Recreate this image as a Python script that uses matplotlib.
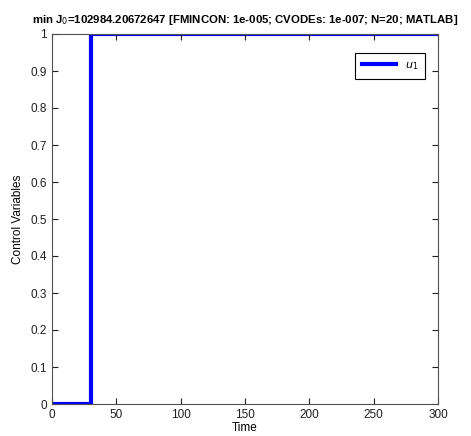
import matplotlib
matplotlib.use("Agg")
import matplotlib.pyplot as plt
import numpy as np

# Piecewise-constant control on N=20 equal intervals over [0, 300]
t_edges = np.linspace(0, 300, 21)
u1 = [0, 0, 1, 1, 1, 1, 1, 1, 1, 1, 1, 1, 1, 1, 1, 1, 1, 1, 1, 1]

x_ticks = [0, 50, 100, 150, 200, 250, 300]
y_ticks = [0, 0.1, 0.2, 0.3, 0.4, 0.5, 0.6, 0.7, 0.8, 0.9, 1]
y_ticklabels = ["0", "0.1", "0.2", "0.3", "0.4", "0.5", "0.6", "0.7", "0.8", "0.9", "1"]

plt.rcParams["font.family"] = ["Liberation Sans", "DejaVu Sans"]

fig = plt.figure(figsize=(4.71, 4.36), dpi=100)
ax = fig.add_axes([52 / 471, 1 - 404 / 436, (438 - 52) / 471, (404 - 34) / 436])

ax.stairs(u1, t_edges, color="#0000ff", linewidth=3, baseline=None, label="$u_1$")

ax.set_xlim(0, 300)
ax.set_ylim(0, 1)
ax.set_xticks(x_ticks)
ax.set_yticks(y_ticks)
ax.set_yticklabels(y_ticklabels)
ax.tick_params(direction="in", length=4, width=0.8, labelsize=8.5, colors="#202020",
               top=True, right=True)
for s in ax.spines.values():
    s.set_color("#505050")
    s.set_linewidth(0.8)

ax.set_xlabel("Time", fontsize=8.5, labelpad=1)
ax.set_ylabel("Control Variables", fontsize=8.5, labelpad=5)
ax.set_title("min J$_0$=102984.20672647 [FMINCON: 1e-005; CVODEs: 1e-007; N=20; MATLAB]",
             fontsize=8.2, fontweight="bold", pad=8)

leg = ax.legend(loc="upper right", bbox_to_anchor=(0.981, 0.964), fontsize=8,
                fancybox=False, framealpha=1, edgecolor="black", handlelength=3.0,
                borderpad=0.65, handletextpad=0.8)
leg.get_frame().set_linewidth(0.8)

fig.savefig("out.png", dpi=100)
